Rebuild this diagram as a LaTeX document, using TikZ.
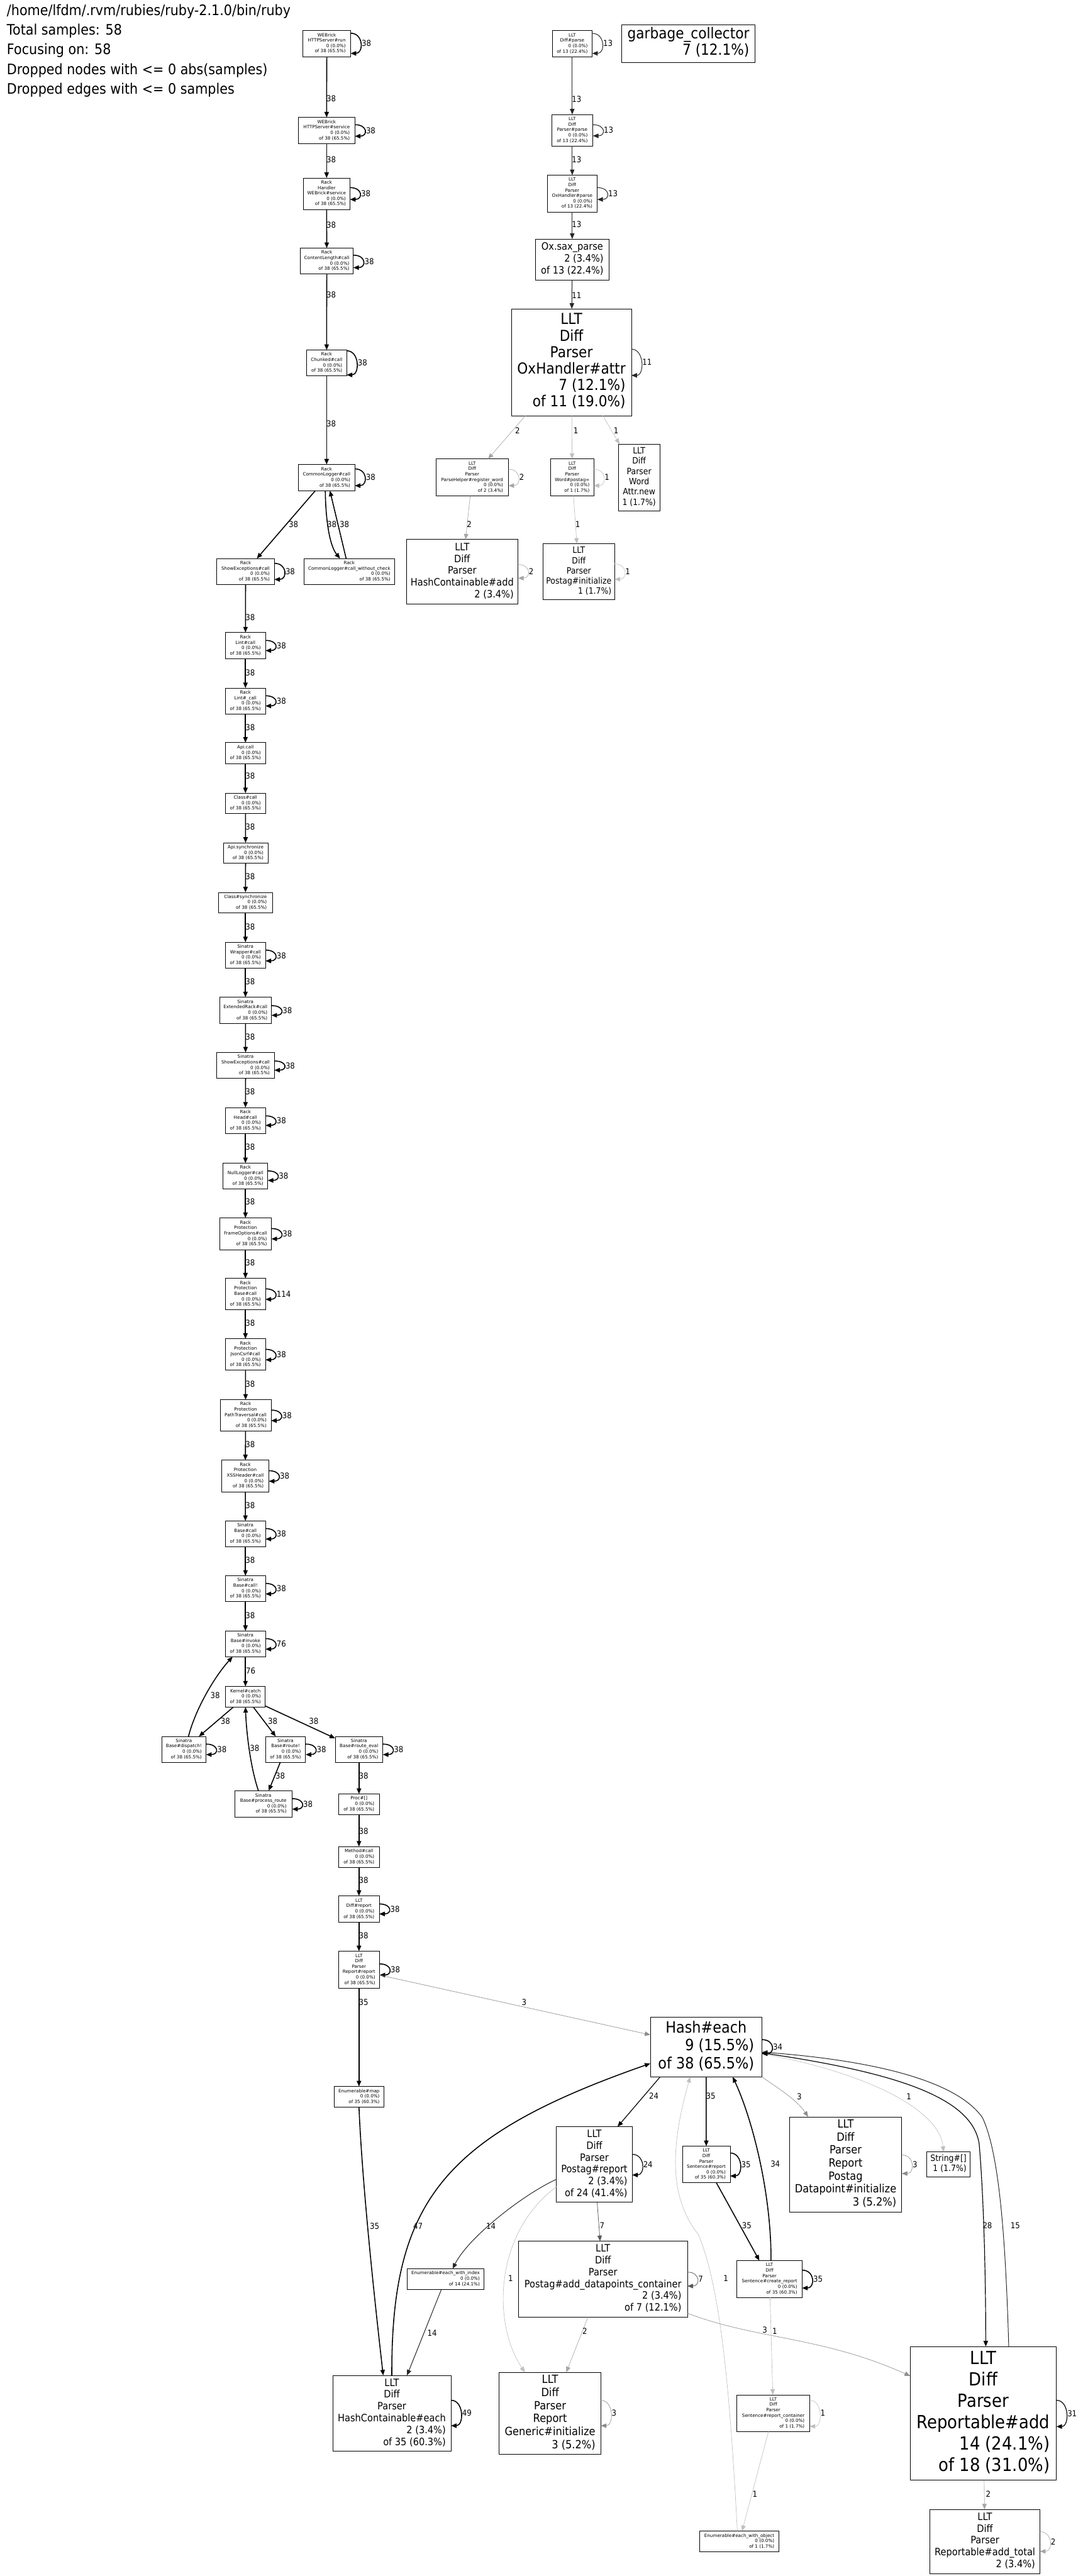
\documentclass[tikz,border=0pt]{standalone}
\usepackage{fontspec}
\setmainfont{DejaVu Sans}
\newfontfamily\condf{DejaVu Sans}[FakeStretch=0.9]
\usetikzlibrary{arrows.meta}
\newcommand\ctr[1]{\multicolumn{1}{@{}c@{}}{#1}}
\newcommand\mytb[1]{\begin{tabular}{@{}r@{}}#1\end{tabular}}
\newcommand\myzero{0 (0.0\%)}
\newcommand\myofe{of 38 (65.5\%)}
\newcommand\fA{\fontsize{2.75}{3.3}\selectfont}
\newcommand\fB{\condf\fontsize{5.3}{6.25}\selectfont}
\newcommand\fC{\condf\fontsize{6.2}{7.2}\selectfont}
\newcommand\fD{\condf\fontsize{6.9}{7.9}\selectfont}
\newcommand\fE{\condf\fontsize{9.2}{10}\selectfont}
\newcommand\fF{\condf\fontsize{9.5}{11}\selectfont}
\newcommand\fG{\condf\fontsize{11}{13}\selectfont}
\newcommand\fL{\condf\fontsize{5}{6}\selectfont}
\newcommand\fH{\condf\fontsize{8.8}{12}\selectfont}
\tikzset{
 box/.style={draw=black, line width=0.3pt, inner sep=0pt, outer sep=0pt, fill=white},
 arw/.style={-{Triangle[length=3.4pt,width=2.7pt]}},
 e38/.style={arw, draw=black, line width=0.6pt},
 e24/.style={arw, draw=black, line width=0.45pt},
 e13/.style={arw, draw=black!85, line width=0.38pt},
 e7/.style={arw, draw=black!65, line width=0.3pt},
 e3/.style={arw, draw=black!45, line width=0.25pt},
 e2/.style={arw, draw=black!35, line width=0.25pt},
 e1/.style={arw, draw=black!25, line width=0.25pt},
 lbl/.style={font=\fL, inner sep=0pt, text=black},
}
\newcommand\mynd[7]{\node[box,minimum width=#4pt,minimum height=#5pt,font=#6] (#1) at (#2,#3) {\mytb{#7}};}
\newcommand\sloop[5]{\draw[#2] ([yshift=#3pt]#1.east) .. controls +(8,0) and +(8,0) .. ([yshift=-#4pt]#1.east) node[lbl,pos=0.5,anchor=west,inner sep=0.5pt]{#5};}
\begin{document}
\begin{tikzpicture}[x=1pt,y=-1pt]
\fill[white] (0,0) rectangle (659,1568);
\useasboundingbox (0,0) rectangle (659,1568);
% header
\node[font=\fH,anchor=base west,inner sep=0] (h1) at (4,9.2) {/home/lfdm/.rvm/rubies/ruby-2.1.0/bin/ruby};
\node[font=\fH,anchor=base west,inner sep=0] (h2) at (4,21.2) {Total samples: 58};
\node[font=\fH,anchor=base west,inner sep=0] (h3) at (4,33.2) {Focusing on: 58};
\node[font=\fH,anchor=base west,inner sep=0] (h4) at (4,45.2) {Dropped nodes with <= 0 abs(samples)};
\node[font=\fH,anchor=base west,inner sep=0] (h5) at (4,57.2) {Dropped edges with <= 0 samples};
% left column
\mynd{n1}{198.9}{26.5}{29}{16}{\fA}{\ctr{WEBrick}\\\ctr{HTTPServer\#run}\\\myzero\\\myofe}
\mynd{n2}{198.8}{79.4}{34.4}{15.8}{\fA}{\ctr{WEBrick}\\\ctr{HTTPServer\#service}\\\myzero\\\myofe}
\mynd{n3}{198.8}{117.9}{28.4}{19.1}{\fA}{\ctr{Rack}\\\ctr{Handler}\\\ctr{WEBrick\#service}\\\myzero\\\myofe}
\mynd{n4}{198.9}{158.9}{32.3}{15.8}{\fA}{\ctr{Rack}\\\ctr{ContentLength\#call}\\\myzero\\\myofe}
\mynd{n5}{198.8}{220.9}{24.4}{15.7}{\fA}{\ctr{Rack}\\\ctr{Chunked\#call}\\\myzero\\\myofe}
\mynd{n6}{198.8}{290.7}{34.3}{15.9}{\fA}{\ctr{Rack}\\\ctr{CommonLogger\#call}\\\myzero\\\myofe}
\mynd{n7}{149.5}{347.9}{35}{15.8}{\fA}{\ctr{Rack}\\\ctr{ShowExceptions\#call}\\\myzero\\\myofe}
\mynd{n8}{212.6}{347.9}{55.3}{15.8}{\fA}{\ctr{Rack}\\\ctr{CommonLogger\#call\_without\_check}\\\myzero\\\myofe}
\mynd{n9}{149.4}{393}{24.4}{16}{\fA}{\ctr{Rack}\\\ctr{Lint\#call}\\\myzero\\\myofe}
\mynd{n10}{149.4}{426.7}{24.4}{15.7}{\fA}{\ctr{Rack}\\\ctr{Lint\#\_call}\\\myzero\\\myofe}
\mynd{n11}{149.4}{458.4}{24.4}{12.7}{\fA}{\ctr{Api.call}\\\myzero\\\myofe}
\mynd{n12}{149.4}{489}{24.4}{12.4}{\fA}{\ctr{Class\#call}\\\myzero\\\myofe}
\mynd{n13}{149.5}{519.2}{27.1}{12.4}{\fA}{\ctr{Api.synchronize}\\\myzero\\\myofe}
\mynd{n14}{149.4}{549.4}{32.7}{12.4}{\fA}{\ctr{Class\#synchronize}\\\myzero\\\myofe}
\mynd{n15}{149.4}{581.4}{24.4}{15.7}{\fA}{\ctr{Sinatra}\\\ctr{Wrapper\#call}\\\myzero\\\myofe}
\mynd{n16}{149.4}{615}{31.6}{16}{\fA}{\ctr{Sinatra}\\\ctr{ExtendedRack\#call}\\\myzero\\\myofe}
\mynd{n17}{149.5}{648.5}{35}{15.7}{\fA}{\ctr{Sinatra}\\\ctr{ShowExceptions\#call}\\\myzero\\\myofe}
\mynd{n18}{149.4}{682.1}{24.4}{15.8}{\fA}{\ctr{Rack}\\\ctr{Head\#call}\\\myzero\\\myofe}
\mynd{n19}{149.4}{715.9}{27.1}{15.8}{\fA}{\ctr{Rack}\\\ctr{NullLogger\#call}\\\myzero\\\myofe}
\mynd{n20}{149.4}{751}{31.6}{19.2}{\fA}{\ctr{Rack}\\\ctr{Protection}\\\ctr{FrameOptions\#call}\\\myzero\\\myofe}
\mynd{n21}{149.4}{787.7}{24.4}{19}{\fA}{\ctr{Rack}\\\ctr{Protection}\\\ctr{Base\#call}\\\myzero\\\myofe}
\mynd{n22}{149.4}{824.5}{24.4}{19.1}{\fA}{\ctr{Rack}\\\ctr{Protection}\\\ctr{JsonCsrf\#call}\\\myzero\\\myofe}
\mynd{n23}{149.5}{861.5}{31}{19}{\fA}{\ctr{Rack}\\\ctr{Protection}\\\ctr{PathTraversal\#call}\\\myzero\\\myofe}
\mynd{n24}{149.3}{898.4}{28.6}{19.2}{\fA}{\ctr{Rack}\\\ctr{Protection}\\\ctr{XSSHeader\#call}\\\myzero\\\myofe}
\mynd{n25}{149.4}{933.6}{24.4}{15.6}{\fA}{\ctr{Sinatra}\\\ctr{Base\#call}\\\myzero\\\myofe}
\mynd{n26}{149.4}{967}{24.4}{15.6}{\fA}{\ctr{Sinatra}\\\ctr{Base\#call!}\\\myzero\\\myofe}
\mynd{n27}{149.4}{1000.6}{24.4}{15.7}{\fA}{\ctr{Sinatra}\\\ctr{Base\#invoke}\\\myzero\\\myofe}
\mynd{n28}{149.4}{1032.8}{24.2}{12.5}{\fA}{\ctr{Kernel\#catch}\\\myzero\\\myofe}
\mynd{n29}{111.9}{1064.8}{27}{15.6}{\fA}{\ctr{Sinatra}\\\ctr{Base\#dispatch!}\\\myzero\\\myofe}
\mynd{n30}{173.8}{1064.8}{24.4}{15.6}{\fA}{\ctr{Sinatra}\\\ctr{Base\#route!}\\\myzero\\\myofe}
\mynd{n31}{218.5}{1064.8}{29}{15.6}{\fA}{\ctr{Sinatra}\\\ctr{Base\#route\_eval}\\\myzero\\\myofe}
\mynd{n32}{160.3}{1098}{35}{16}{\fA}{\ctr{Sinatra}\\\ctr{Base\#process\_route}\\\myzero\\\myofe}
\mynd{n33}{218.5}{1098.2}{24.6}{12.5}{\fA}{\ctr{Proc\#[]}\\\myzero\\\myofe}
\mynd{n34}{218.5}{1130.3}{24.6}{12.6}{\fA}{\ctr{Method\#call}\\\myzero\\\myofe}
\mynd{n35}{218.5}{1162}{24.6}{16}{\fA}{\ctr{LLT}\\\ctr{Diff\#report}\\\myzero\\\myofe}
\mynd{n36}{218.5}{1198.9}{25}{22.4}{\fA}{\ctr{LLT}\\\ctr{Diff}\\\ctr{Parser}\\\ctr{Report\#report}\\\myzero\\\myofe}
\mynd{n37}{218.5}{1276.3}{30.3}{12.6}{\fA}{\ctr{Enumerable\#map}\\\myzero\\of 35 (60.3\%)}
% top right
\mynd{t1}{348.3}{26.6}{24.3}{15.9}{\fA}{\ctr{LLT}\\\ctr{Diff\#parse}\\\myzero\\of 13 (22.4\%)}
\mynd{t2}{348.3}{79.3}{25.1}{19.2}{\fA}{\ctr{LLT}\\\ctr{Diff}\\\ctr{Parser\#parse}\\\myzero\\of 13 (22.4\%)}
\mynd{t3}{348.3}{117.8}{30.5}{22.4}{\fA}{\ctr{LLT}\\\ctr{Diff}\\\ctr{Parser}\\\ctr{OxHandler\#parse}\\\myzero\\of 13 (22.4\%)}
\mynd{t4}{348.3}{158}{44.5}{25}{\fC}{\ctr{Ox.sax\_parse}\\2 (3.4\%)\\of 13 (22.4\%)}
\mynd{t5}{347.8}{220.5}{73}{65}{\fE}{\ctr{LLT}\\\ctr{Diff}\\\ctr{Parser}\\\ctr{OxHandler\#attr}\\7 (12.1\%)\\of 11 (19.0\%)}
\mynd{gc}{419}{26.5}{81}{23}{\fE}{\ctr{garbage\_collector}\\7 (12.1\%)}
\mynd{t6}{287.4}{290.6}{44.2}{22.5}{\fA}{\ctr{LLT}\\\ctr{Diff}\\\ctr{Parser}\\\ctr{ParseHelper\#register\_word}\\\myzero\\of 2 (3.4\%)}
\mynd{t7}{348.3}{290.6}{26.2}{22.5}{\fA}{\ctr{LLT}\\\ctr{Diff}\\\ctr{Parser}\\\ctr{Word\#postag=}\\\myzero\\of 1 (1.7\%)}
\mynd{t8}{389}{290.6}{25.1}{40.5}{\fB}{\ctr{LLT}\\\ctr{Diff}\\\ctr{Parser}\\\ctr{Word}\\\ctr{Attr.new}\\1 (1.7\%)}
\mynd{t9}{281.3}{348}{68}{39.2}{\fC}{\ctr{LLT}\\\ctr{Diff}\\\ctr{Parser}\\\ctr{HashContainable\#add}\\2 (3.4\%)}
\mynd{t10}{352.3}{348}{43.5}{34}{\fB}{\ctr{LLT}\\\ctr{Diff}\\\ctr{Parser}\\\ctr{Postag\#initialize}\\1 (1.7\%)}
% bottom
\mynd{b1}{429.8}{1246.1}{67.9}{36.2}{\fF}{\ctr{Hash\#each}\\9 (15.5\%)\\of 38 (65.5\%)}
\mynd{b2}{361.75}{1317.5}{46.1}{46}{\fC}{\ctr{LLT}\\\ctr{Diff}\\\ctr{Parser}\\\ctr{Postag\#report}\\2 (3.4\%)\\of 24 (41.4\%)}
\mynd{b3}{429.9}{1317.5}{29}{22.3}{\fA}{\ctr{LLT}\\\ctr{Diff}\\\ctr{Parser}\\\ctr{Sentence\#report}\\\myzero\\of 35 (60.3\%)}
\mynd{b4}{514.7}{1317.4}{68.3}{57.8}{\fD}{\ctr{LLT}\\\ctr{Diff}\\\ctr{Parser}\\\ctr{Report}\\\ctr{Postag}\\\ctr{Datapoint\#initialize}\\3 (5.2\%)}
\mynd{b5}{577.3}{1317.4}{26.3}{15.1}{\fB}{\ctr{String\#[]}\\1 (1.7\%)}
\mynd{b6}{271.2}{1387.2}{46.8}{12.4}{\fA}{\ctr{Enumerable\#each\_with\_index}\\\myzero\\of 14 (24.1\%)}
\mynd{b7}{367}{1387.3}{102.8}{46.2}{\fC}{\ctr{LLT}\\\ctr{Diff}\\\ctr{Parser}\\\ctr{Postag\#add\_datapoints\_container}\\2 (3.4\%)\\of 7 (12.1\%)}
\mynd{b8}{468.4}{1387.2}{39.6}{22.4}{\fA}{\ctr{LLT}\\\ctr{Diff}\\\ctr{Parser}\\\ctr{Sentence\#create\_report}\\\myzero\\of 35 (60.3\%)}
\mynd{b9}{238.5}{1469}{72}{46.2}{\fC}{\ctr{LLT}\\\ctr{Diff}\\\ctr{Parser}\\\ctr{HashContainable\#each}\\2 (3.4\%)\\of 35 (60.3\%)}
\mynd{b10}{334.8}{1469}{61.8}{50}{\fD}{\ctr{LLT}\\\ctr{Diff}\\\ctr{Parser}\\\ctr{Report}\\\ctr{Generic\#initialize}\\3 (5.2\%)}
\mynd{b11}{470.7}{1468.9}{44.2}{22.3}{\fA}{\ctr{LLT}\\\ctr{Diff}\\\ctr{Parser}\\\ctr{Sentence\#report\_container}\\\myzero\\of 1 (1.7\%)}
\mynd{b12}{598.5}{1469}{89}{81.4}{\fG}{\ctr{LLT}\\\ctr{Diff}\\\ctr{Parser}\\\ctr{Reportable\#add}\\14 (24.1\%)\\of 18 (31.0\%)}
\mynd{b13}{450}{1547}{48}{12.7}{\fA}{\ctr{Enumerable\#each\_with\_object}\\\myzero\\of 1 (1.7\%)}
\mynd{b14}{599.5}{1547}{67}{39}{\fC}{\ctr{LLT}\\\ctr{Diff}\\\ctr{Parser}\\\ctr{Reportable\#add\_total}\\2 (3.4\%)}
% ---- edges: left column
\draw[e38] (n1) -- (n2) node[lbl] at (201.6,60) {38};
\sloop{n1}{e38}{6.3}{6}{38}
\draw[e38] (n2) -- (n3) node[lbl] at (201.6,97.3) {38};
\sloop{n2}{e38}{3.5}{3.5}{38}
\draw[e38] (n3) -- (n4) node[lbl] at (201.6,137) {38};
\sloop{n3}{e38}{3.7}{3.5}{38}
\draw[e38] (n4) -- (n5) node[lbl] at (201.6,179.4) {38};
\sloop{n4}{e38}{3.6}{4}{38}
\draw[e38] (n5) -- (n6) node[lbl] at (201.6,258) {38};
\sloop{n5}{e38}{7.4}{7.3}{38}
\sloop{n6}{e38}{5.3}{4.9}{38}
\draw[e38] (n6) -- (n7) node[lbl] at (178.6,319) {38};
\draw[e38] ([xshift=-0.8pt]n6.south) .. controls (198.2,316) and (200.5,332) .. ([xshift=-5.6pt]n8.north) node[lbl] at (202,319) {38};
\draw[e38] ([xshift=-1.9pt]n8.north) -- ([xshift=2pt]n6.south) node[lbl] at (209.6,319) {38};
\sloop{n7}{e38}{5}{4.8}{38}
\draw[e38] (n7) -- (n9) node[lbl] at (152.3,375.8) {38};
\sloop{n9}{e38}{3.2}{3}{38}
\draw[e38] (n9) -- (n10) node[lbl] at (152.3,409.4) {38};
\sloop{n10}{e38}{3.2}{3}{38}
\draw[e38] (n10) -- (n11) node[lbl] at (152.3,443) {38};
\draw[e38] (n11) -- (n12) node[lbl] at (152.3,472.4) {38};
\draw[e38] (n12) -- (n13) node[lbl] at (152.3,503.4) {38};
\draw[e38] (n13) -- (n14) node[lbl] at (152.3,533.6) {38};
\draw[e38] (n14) -- (n15) node[lbl] at (152.3,564) {38};
\sloop{n15}{e38}{3.1}{3.5}{38}
\draw[e38] (n15) -- (n16) node[lbl] at (152.3,597.5) {38};
\sloop{n16}{e38}{2.9}{3}{38}
\draw[e38] (n16) -- (n17) node[lbl] at (152.3,631) {38};
\sloop{n17}{e38}{2.7}{2.9}{38}
\draw[e38] (n17) -- (n18) node[lbl] at (152.3,664.6) {38};
\sloop{n18}{e38}{2.9}{2.9}{38}
\draw[e38] (n18) -- (n19) node[lbl] at (152.3,698) {38};
\sloop{n19}{e38}{3.2}{2.6}{38}
\draw[e38] (n19) -- (n20) node[lbl] at (152.3,731.6) {38};
\sloop{n20}{e38}{3.2}{3.1}{38}
\draw[e38] (n20) -- (n21) node[lbl] at (152.3,768.6) {38};
\sloop{n21}{e38}{3.2}{3.2}{114}
\draw[e38] (n21) -- (n22) node[lbl] at (152.3,805.4) {38};
\sloop{n22}{e38}{3.2}{3.2}{38}
\draw[e38] (n22) -- (n23) node[lbl] at (152.3,842.3) {38};
\sloop{n23}{e38}{3.2}{3.2}{38}
\draw[e38] (n23) -- (n24) node[lbl] at (152.3,879.2) {38};
\sloop{n24}{e38}{3.2}{3.2}{38}
\draw[e38] (n24) -- (n25) node[lbl] at (152.3,916.2) {38};
\sloop{n25}{e38}{3.2}{3.2}{38}
\draw[e38] (n25) -- (n26) node[lbl] at (152.3,949.6) {38};
\sloop{n26}{e38}{3.2}{3.2}{38}
\draw[e38] (n26) -- (n27) node[lbl] at (152.3,983.3) {38};
\sloop{n27}{e38}{3.2}{3.2}{76}
\draw[e38] (n27) -- (n28) node[lbl] at (152.6,1017) {76};
\draw[e38] (n28) -- (n29) node[lbl] at (137.2,1047.5) {38};
\draw[e38] (n28) -- (n30) node[lbl] at (166,1047.5) {38};
\draw[e38] (n28) -- (n31) node[lbl] at (191,1047.5) {38};
\draw[e38] ([xshift=2.8pt]n29.north) .. controls (119,1040) and (131,1020) .. ([xshift=-7.8pt]n27.south) node[lbl] at (131,1032) {38};
\draw[e38] ([xshift=-3pt]n32.north) .. controls (152.5,1076) and (150,1055) .. (n28.south) node[lbl] at (155,1064) {38};
\draw[e38] (n30) -- (n32) node[lbl] at (170.6,1081) {38};
\sloop{n29}{e38}{3.2}{3.2}{38}
\sloop{n30}{e38}{3.2}{3.2}{38}
\sloop{n31}{e38}{3.2}{3.2}{38}
\sloop{n32}{e38}{3.2}{3.2}{38}
\draw[e38] (n31) -- (n33) node[lbl] at (221.3,1081) {38};
\draw[e38] (n33) -- (n34) node[lbl] at (221.3,1114.6) {38};
\draw[e38] (n34) -- (n35) node[lbl] at (221.3,1144.6) {38};
\sloop{n35}{e38}{3.1}{3}{38}
\draw[e38] (n35) -- (n36) node[lbl] at (221.3,1178.3) {38};
\sloop{n36}{e38}{3.5}{3.3}{38}
\draw[e38] (n36) -- (n37) node[lbl] at (221.3,1218.6) {35};
\draw[e3] ([yshift=-3.3pt]n36.east) -- ([yshift=7.5pt]b1.west) node[lbl] at (319,1218.6) {3};
% ---- bottom edges
\draw[e38] (n37.south) .. controls (220.5,1330) and (228,1400) .. ([xshift=-5.25pt]b9.north) node[lbl] at (228,1355) {35};
\draw[e38] (b9.north) .. controls (238,1340) and (270,1300) .. ([yshift=-9.9pt]b1.west) node[lbl] at (254.4,1355) {47};
\draw[e13] ([yshift=-9pt]b2.west) .. controls (318,1336) and (285,1362) .. ([xshift=4.3pt]b6.north) node[lbl] at (298.8,1355) {14};
\draw[e13] (b6) -- (b9) node[lbl] at (263,1420) {14};
\sloop{b9}{e38}{8}{7.5}{49}
\draw[e24] ([xshift=-28pt]b1.south) -- ([xshift=14.15pt]b2.north) node[lbl] at (398,1275.9) {24};
\draw[e38] (b1) -- (b3) node[lbl] at (432.6,1275.9) {35};
\draw[e38] ([xshift=0.9pt]b8.north) .. controls (469.5,1335) and (458,1290) .. ([xshift=16.2pt]b1.south) node[lbl] at (471.9,1317) {34};
\draw[e3] (b1.south east) .. controls (472,1270) and (485,1278) .. ([xshift=-22.8pt]b4.north) node[lbl] at (486.5,1276) {3};
\draw[e1] ([yshift=-4pt]b1.east) .. controls (530,1262) and (572,1285) .. ([xshift=-3pt]b5.north) node[lbl] at (553.2,1276) {1};
\draw[e24] ([yshift=-3.5pt]b1.east) .. controls (550,1262) and (592,1278) .. (596,1305) .. controls (599,1340) and (600,1390) .. ([xshift=1.5pt]b12.north) node[lbl] at (601,1354.7) {28};
\draw[e13] ([xshift=15.5pt]b12.north) .. controls (612,1360) and (608,1310) .. (598,1289) .. controls (582,1266) and (530,1254) .. ([yshift=-3pt]b1.east) node[lbl] at (618,1354.7) {15};
\draw[e38] (b3) -- (b8) node[lbl] at (454.5,1354.7) {35};
\sloop{b1}{e38}{4.6}{4}{34}
\sloop{b2}{e24}{6.2}{6.4}{24}
\sloop{b3}{e38}{7}{7}{35}
\sloop{b4}{e3}{5.7}{5.6}{3}
\draw[e7] (b2) -- (b7) node[lbl] at (366.5,1354.7) {7};
\draw[e1] ([yshift=-13.5pt]b2.west) .. controls (300,1360) and (300,1415) .. ([xshift=-15.3pt]b10.north) node[lbl] at (310.8,1386.7) {1};
\sloop{b7}{e7}{4.3}{4.2}{7}
\draw[e2] (b7) -- (b10) node[lbl] at (356,1418.8) {2};
\draw[e3] ([yshift=-20.7pt]b7.east) .. controls (460,1424) and (500,1422) .. ([yshift=22.8pt]b12.west) node[lbl] at (465.5,1418.3) {3};
\draw[e1] (b8) -- (b11) node[lbl] at (471.6,1418.8) {1};
\sloop{b8}{e38}{5.4}{5.5}{35}
\sloop{b10}{e3}{8}{7.5}{3}
\sloop{b11}{e1}{8}{8}{1}
\draw[e1] (b11) -- (b13) node[lbl] at (459.5,1518) {1};
\draw[e1] ([xshift=-1.2pt]b13.north) .. controls (445,1470) and (440,1395) .. (425,1360) .. controls (405,1335) and (410,1300) .. ([xshift=-9.7pt]b1.south) node[lbl] at (441.8,1386.7) {1};
\sloop{b12}{e24}{8}{8}{31}
\draw[e2] (b12) -- (b14) node[lbl] at (601.5,1518) {2};
\sloop{b14}{e2}{6}{6}{2}
% ---- top right edges
\sloop{t1}{e13}{6.3}{5.9}{13}
\draw[e13] (t1) -- (t2) node[lbl] at (351,60.3) {13};
\sloop{t2}{e13}{3.4}{3.4}{13}
\draw[e13] (t2) -- (t3) node[lbl] at (351,97.3) {13};
\sloop{t3}{e13}{3.6}{3.6}{13}
\draw[e13] (t3) -- (t4) node[lbl] at (351,136.6) {13};
\draw[e13] (t4) -- (t5) node[lbl] at (351,180) {11};
\sloop{t5}{e13}{8}{8}{11}
\draw[e2] (t5) -- (t6) node[lbl] at (315,262) {2};
\draw[e1] (t5) -- (t7) node[lbl] at (350.5,262) {1};
\draw[e1] (t5) -- (t8) node[lbl] at (375,262) {1};
\sloop{t6}{e2}{5}{5}{2}
\sloop{t7}{e1}{5}{5}{1}
\draw[e2] (t6) -- (t9) node[lbl] at (285.6,319.2) {2};
\draw[e1] (t7) -- (t10) node[lbl] at (351.7,319.2) {1};
\sloop{t9}{e2}{4.4}{3.9}{2}
\sloop{t10}{e1}{4.8}{4.6}{1}
\end{tikzpicture}
\end{document}
